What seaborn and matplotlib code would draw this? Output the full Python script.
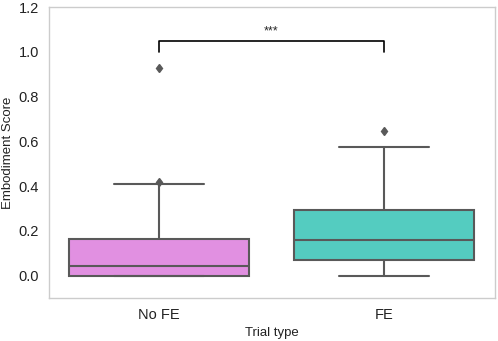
import seaborn as sns
import matplotlib.pyplot as plt
import pandas as pd

# Embodiment scores per trial type
no_fe_scores = [0.0, 0.0, 0.0, 0.0, 0.0, 0.0, 0.005, 0.015, 0.025, 0.035, 0.045,
                0.07, 0.10, 0.12, 0.15, 0.165, 0.22, 0.30, 0.41, 0.42, 0.93]
fe_scores = [0.0, 0.02, 0.035, 0.05, 0.06, 0.068, 0.09, 0.11, 0.13, 0.145, 0.16,
             0.18, 0.21, 0.24, 0.27, 0.295, 0.33, 0.40, 0.48, 0.575, 0.645]
trial_types = ["No FE", "FE"]
box_colors = ["violet", "turquoise"]
y_ticks = [0.0, 0.2, 0.4, 0.6, 0.8, 1.0, 1.2]

df = pd.DataFrame({
    "Trial type": [trial_types[0]] * len(no_fe_scores) + [trial_types[1]] * len(fe_scores),
    "Embodiment Score": no_fe_scores + fe_scores,
})

sns.set_style("white")
plt.rcParams['font.family'] = ['Liberation Sans', 'DejaVu Sans']

fig = plt.figure(figsize=(4.98, 3.41), dpi=100)
ax = fig.add_axes([0.0974, 0.126, 0.8956, 0.853])

line_gray = "#595959"
sns.boxplot(data=df, x="Trial type", y="Embodiment Score", hue="Trial type",
            order=trial_types, palette=box_colors, saturation=0.75, width=0.8,
            linecolor=line_gray, linewidth=1.5, legend=False, ax=ax,
            flierprops=dict(marker="d", markersize=4.5, markerfacecolor=line_gray,
                            markeredgecolor=line_gray))

# significance bracket
ax.plot([0, 0, 1, 1], [1.0, 1.05, 1.05, 1.0], color="black", linewidth=1.2)
ax.text(0.5, 1.065, "***", ha="center", va="bottom", fontsize=9)

ax.set_ylim(-0.1, 1.2)
ax.set_yticks(y_ticks)
ax.set_yticklabels([f"{v:.1f}" for v in y_ticks])
ax.tick_params(labelsize=10.5, colors="#222222", length=0, pad=7)
ax.set_xlabel("Trial type", fontsize=9.5, color="#222222")
ax.set_ylabel("Embodiment Score", fontsize=9.5, color="#222222")
ax.yaxis.set_label_coords(-0.078, 0.5)
for s in ax.spines.values():
    s.set_color("#cccccc")
    s.set_linewidth(1.0)

plt.savefig("out.png", dpi=100)
